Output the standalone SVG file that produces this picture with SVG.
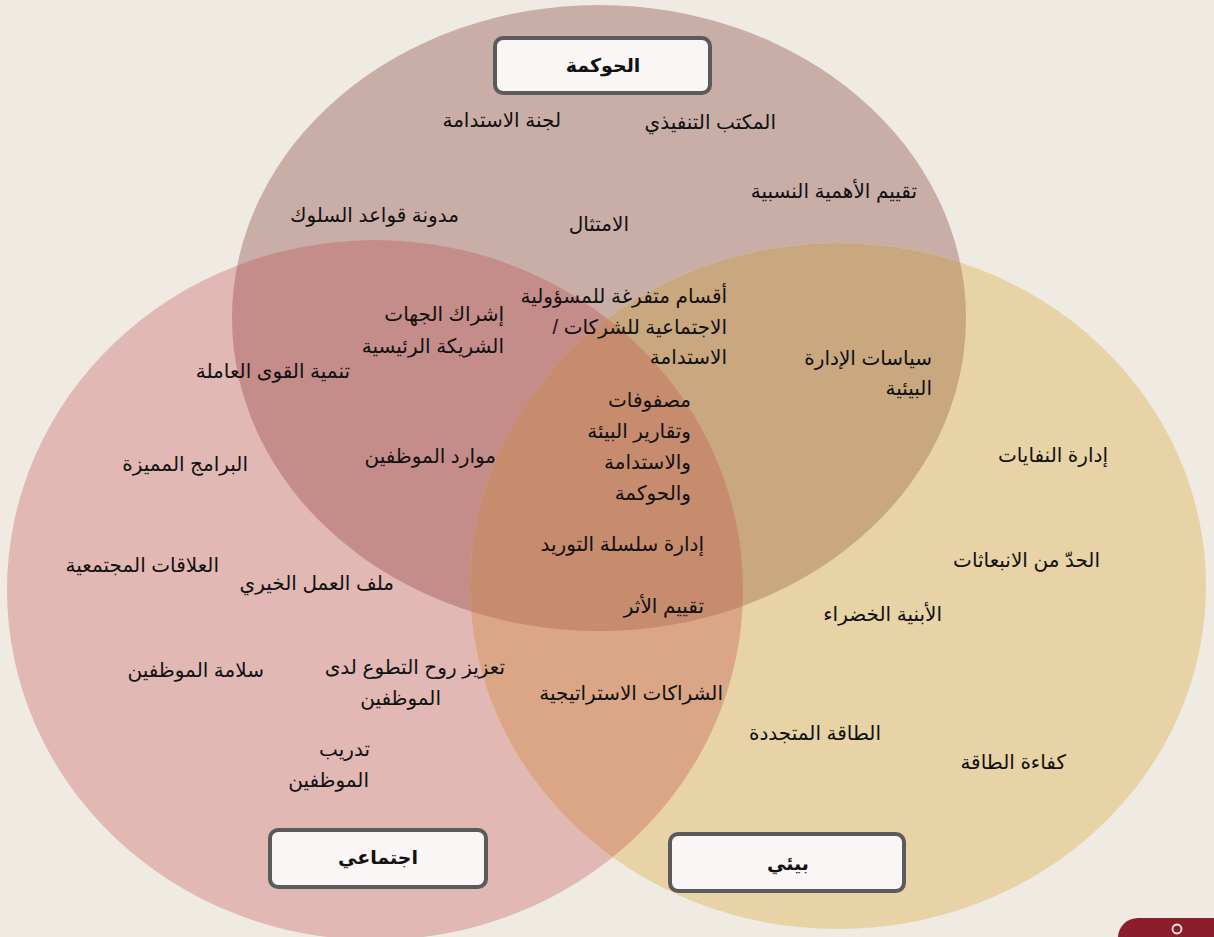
<svg xmlns="http://www.w3.org/2000/svg" width="1214" height="937" viewBox="0 0 1214 937">
<defs>
<style>
.t{font-family:"Liberation Sans","DejaVu Sans",sans-serif;font-size:20px;fill:#111;direction:rtl;text-anchor:start}
.h{font-family:"Liberation Sans","DejaVu Sans",sans-serif;font-size:19px;font-weight:bold;fill:#111;text-anchor:middle}
.box{fill:#f9f6f5;stroke:#5b5b5b;stroke-width:4}
</style>
<ellipse id="eT" cx="599" cy="318" rx="367" ry="313"/>
<ellipse id="eL" cx="375" cy="590" rx="368" ry="350"/>
<ellipse id="eR" cx="838" cy="586" rx="368" ry="343"/>
<clipPath id="cT"><use href="#eT"/></clipPath>
<clipPath id="cL"><use href="#eL"/></clipPath>
</defs>
<rect width="1214" height="937" fill="#efeae2"/>
<g id="venn">
<use href="#eT" fill="#c9aea8"/>
<use href="#eL" fill="#e1b8b3"/>
<use href="#eR" fill="#e7d3a6"/>
<use href="#eL" fill="#c48d8a" clip-path="url(#cT)"/>
<use href="#eR" fill="#c9a880" clip-path="url(#cT)"/>
<use href="#eR" fill="#daa685" clip-path="url(#cL)"/>
<g clip-path="url(#cT)"><use href="#eR" fill="#c78b6e" clip-path="url(#cL)"/></g>
</g>
<g id="corner">
<rect x="1118" y="918" width="140" height="60" rx="20" fill="#8c1d2a"/>
<circle cx="1177" cy="929" r="4.5" fill="none" stroke="#f4eeee" stroke-width="1.8"/>
</g>
<g id="hdr-governance"><rect class="box" x="495" y="38" width="215" height="55" rx="8"/><text class="h" x="603" y="72">الحوكمة</text></g>
<g id="hdr-social"><rect class="box" x="270" y="830" width="216" height="57" rx="8"/><text class="h" x="378" y="864">اجتماعي</text></g>
<g id="hdr-env"><rect class="box" x="670" y="834" width="234" height="57" rx="8"/><text class="h" x="788" y="870">بيئي</text></g>
<g id="n1"><text class="t" x="776" y="129">المكتب التنفيذي</text></g>
<g id="n2"><text class="t" x="561" y="127">لجنة الاستدامة</text></g>
<g id="n3"><text class="t" x="917" y="198">تقييم الأهمية النسبية</text></g>
<g id="n4"><text class="t" x="459" y="222">مدونة قواعد السلوك</text></g>
<g id="n5"><text class="t" x="629" y="231">الامتثال</text></g>
<g id="n6"><text class="t" x="727" y="303">أقسام متفرغة للمسؤولية</text><text class="t" x="727" y="334">الاجتماعية للشركات /</text><text class="t" x="727" y="364">الاستدامة</text></g>
<g id="n7"><text class="t" x="504" y="321">إشراك الجهات</text><text class="t" x="504" y="353">الشريكة الرئيسية</text></g>
<g id="n8"><text class="t" x="350" y="378">تنمية القوى العاملة</text></g>
<g id="n9"><text class="t" x="932" y="365">سياسات الإدارة</text><text class="t" x="932" y="395">البيئية</text></g>
<g id="n10"><text class="t" x="691" y="407">مصفوفات</text><text class="t" x="691" y="438">وتقارير البيئة</text><text class="t" x="691" y="469">والاستدامة</text><text class="t" x="691" y="500">والحوكمة</text></g>
<g id="n11"><text class="t" x="496" y="463">موارد الموظفين</text></g>
<g id="n12"><text class="t" x="248" y="471">البرامج المميزة</text></g>
<g id="n13"><text class="t" x="1108" y="462">إدارة النفايات</text></g>
<g id="n14"><text class="t" x="704" y="551">إدارة سلسلة التوريد</text></g>
<g id="n15"><text class="t" x="219" y="572">العلاقات المجتمعية</text></g>
<g id="n16"><text class="t" x="1100" y="567">الحدّ من الانبعاثات</text></g>
<g id="n17"><text class="t" x="394" y="590">ملف العمل الخيري</text></g>
<g id="n18"><text class="t" x="704" y="613">تقييم الأثر</text></g>
<g id="n19"><text class="t" x="942" y="621">الأبنية الخضراء</text></g>
<g id="n20"><text class="t" x="505" y="674">تعزيز روح التطوع لدى</text><text class="t" x="441" y="705">الموظفين</text></g>
<g id="n21"><text class="t" x="264" y="677">سلامة الموظفين</text></g>
<g id="n22"><text class="t" x="723" y="700">الشراكات الاستراتيجية</text></g>
<g id="n23"><text class="t" x="881" y="740">الطاقة المتجددة</text></g>
<g id="n24"><text class="t" x="1066" y="769">كفاءة الطاقة</text></g>
<g id="n25"><text class="t" x="370" y="756">تدريب</text><text class="t" x="369" y="787">الموظفين</text></g>
</svg>
